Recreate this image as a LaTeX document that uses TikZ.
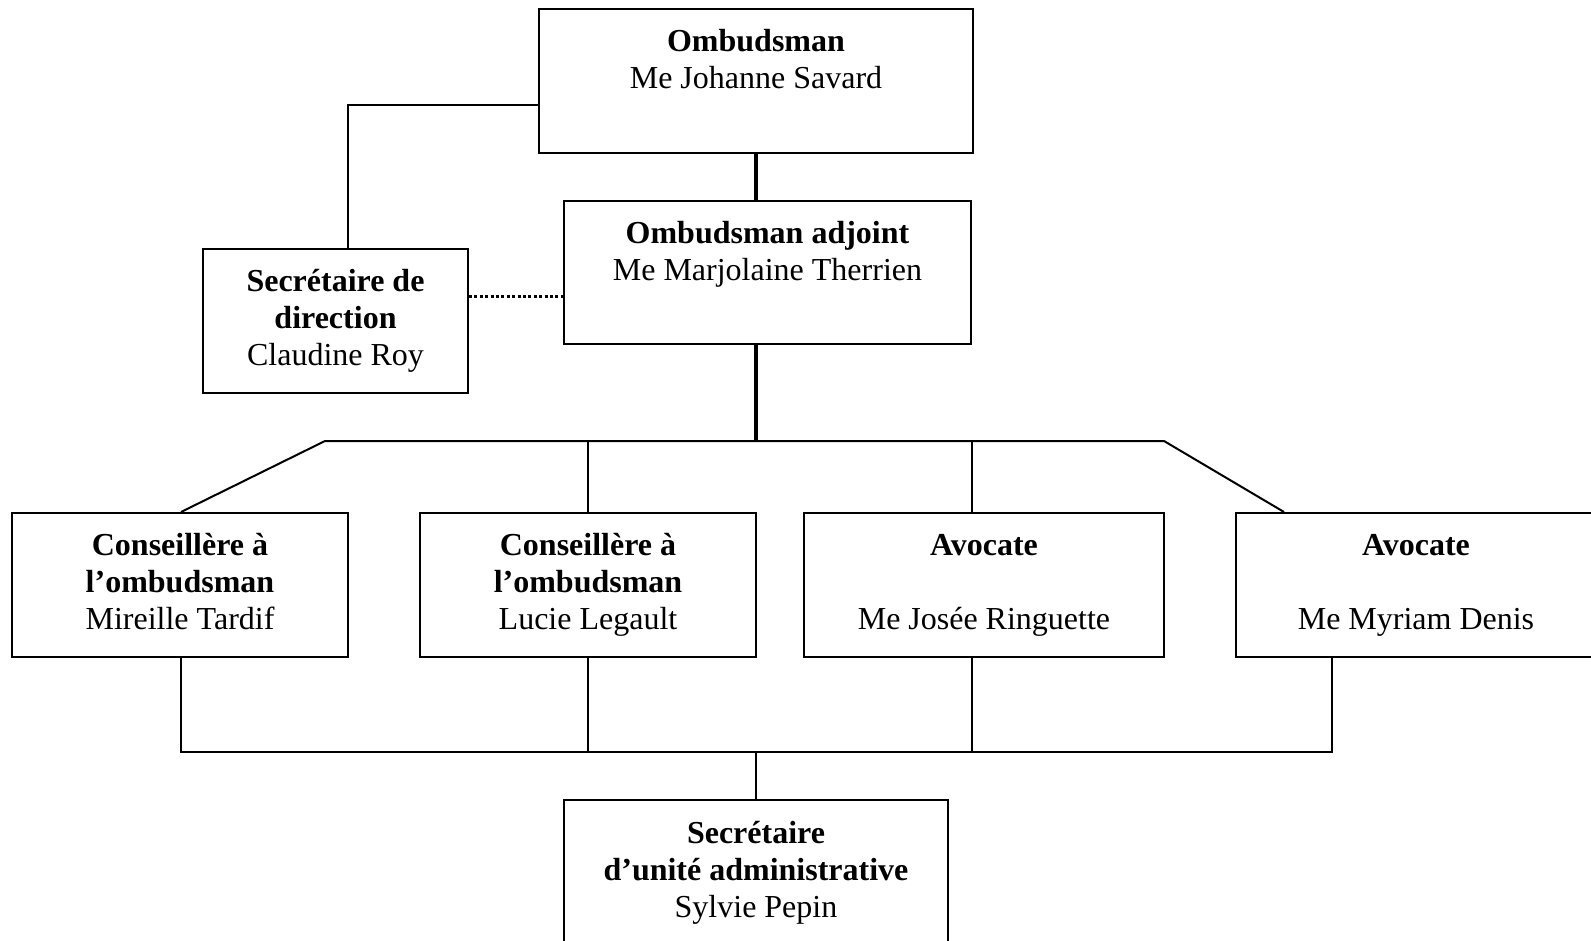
\documentclass[tikz,border=0pt]{standalone}
\usepackage{fontspec}
\setmainfont{Liberation Serif}
\begin{document}
\begin{tikzpicture}[x=0.5pt,y=-0.5pt,
  box/.style={draw=black, line width=1pt, inner sep=0pt, fill=white},
  txt/.style={anchor=base, text width=300pt, align=flush center, inner sep=0pt,
    font=\fontsize{16}{18.5}\selectfont},
  link/.style={draw=black, line width=1pt},
  heavy/.style={draw=black, line width=2pt},
  dots/.style={draw=black, line width=1.5pt, dash pattern=on 1.5pt off 1.2pt}]
\clip (0,0) rectangle (1591,941);
\fill[white] (0,0) rectangle (1591,941);

% boxes (pixel coordinates, 1px = 0.5pt)
\node[box, minimum width=217pt, minimum height=72pt] (top) at (756,81) {};
\node[box, minimum width=203.5pt, minimum height=71.5pt] (adj) at (767.5,272.5) {};
\node[box, minimum width=132.5pt, minimum height=72pt] (sec) at (335.5,321) {};
\node[box, minimum width=168pt, minimum height=72pt] (A) at (180,585) {};
\node[box, minimum width=168pt, minimum height=72pt] (B) at (588,585) {};
\node[box, minimum width=180pt, minimum height=72pt] (C) at (984,585) {};
\node[box, minimum width=180pt, minimum height=72pt] (D) at (1416,585) {};
\node[box, minimum width=192pt, minimum height=90pt] (bot) at (756,890) {};

% texts
\node[txt] (ttop) at ([yshift=-22pt]top.north) {\textbf{Ombudsman}\\Me Johanne Savard};
\node[txt] (tadj) at ([yshift=-21.75pt]adj.north) {\textbf{Ombudsman adjoint}\\Me Marjolaine Therrien};
\node[txt] (tsec) at ([yshift=-21.75pt]sec.north) {\textbf{Secrétaire de}\\\textbf{direction}\\Claudine Roy};
\node[txt] (tA) at ([yshift=-21.75pt]A.north) {\textbf{Conseillère à}\\\textbf{l’ombudsman}\\Mireille Tardif};
\node[txt] (tB) at ([yshift=-21.75pt]B.north) {\textbf{Conseillère à}\\\textbf{l’ombudsman}\\Lucie Legault};
\node[txt] (tC) at ([yshift=-21.75pt]C.north) {\textbf{Avocate}\\~\\Me Josée Ringuette};
\node[txt] (tD) at ([yshift=-21.75pt]D.north) {\textbf{Avocate}\\~\\Me Myriam Denis};
\node[txt] (tbot) at ([yshift=-22pt]bot.north) {\textbf{Secrétaire}\\\textbf{d’unité administrative}\\Sylvie Pepin};

% helper coordinates
\coordinate (secx) at (348,105);
\coordinate (dotl) at (0,297);
\coordinate (spine) at (756,441);
\coordinate (busL) at (325,441);
\coordinate (busR) at (1164,441);
\coordinate (cx) at (972,441);
\coordinate (dx) at (1284,441);
\coordinate (lowL) at (181,752);
\coordinate (lowR) at (1332,752);

% connectors
\path[heavy] (top.south) -- (top.south |- adj.north);
\path[link] (secx |- sec.north) -- (secx) -- (secx -| top.west);
\path[dots] (dotl -| sec.east) -- (dotl -| adj.west);
\path[heavy] (spine |- adj.south) -- (spine);
\path[link] (lowL |- A.north) -- (busL) -- (busR) -- (dx |- D.north);
\path[link] (B.north) -- (B.north |- busL);
\path[link] (cx) -- (cx |- C.north);
\path[link] (lowL |- A.south) -- (lowL) -- (lowR) -- (lowR |- D.south);
\path[link] (B.south) -- (B.south |- lowL);
\path[link] (cx |- C.south) -- (cx |- lowL);
\path[link] (bot.north) -- (bot.north |- lowL);
\end{tikzpicture}
\end{document}
